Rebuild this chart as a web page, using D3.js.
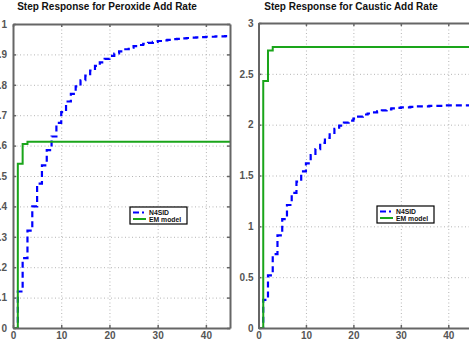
<!DOCTYPE html>
<html>
<head>
<meta charset="utf-8">
<script src="https://cdn.jsdelivr.net/npm/d3@7"></script>
<style>
body { margin: 0; background: #fff; }
svg { display: block; font-family: "Liberation Sans", Arial, sans-serif; }
</style>
</head>
<body>
<div id="chart"></div>
<script>
// data
var steps = d3.range(0, 46);
var peroxideN4sid = [0, 0.12, 0.23, 0.32, 0.40, 0.475, 0.535, 0.585, 0.63, 0.675, 0.71, 0.745, 0.77, 0.795, 0.815, 0.83,
    0.847, 0.862, 0.874, 0.885, 0.895, 0.903, 0.91, 0.917, 0.922, 0.927, 0.931, 0.935, 0.938, 0.941, 0.944, 0.946,
    0.948, 0.95, 0.951, 0.953, 0.954, 0.955, 0.956, 0.957, 0.958, 0.958, 0.959, 0.959, 0.96, 0.96];
var causticN4sid = [0, 0.276, 0.517, 0.727, 0.911, 1.07, 1.21, 1.33, 1.44, 1.54, 1.62, 1.70, 1.76, 1.82, 1.87, 1.92,
    1.96, 1.99, 2.02, 2.04, 2.06, 2.08, 2.10, 2.11, 2.12, 2.13, 2.14, 2.15, 2.16, 2.165, 2.17, 2.17,
    2.175, 2.18, 2.18, 2.18, 2.185, 2.185, 2.185, 2.19, 2.19, 2.19, 2.19, 2.19, 2.19, 2.19];
var emSteps = [0, 1, 2, 3, 45];
var peroxideEm = [0, 0.54, 0.605, 0.613, 0.615];
var causticEm = [0, 2.43, 2.73, 2.765, 2.775];
var xTicks = [0, 10, 20, 30, 40];
var peroxideTicks = [0, 0.1, 0.2, 0.3, 0.4, 0.5, 0.6, 0.7, 0.8, 0.9, 1];
var causticTicks = [0, 0.5, 1, 1.5, 2, 2.5, 3];
var legendLabels = ["N4SID", "EM model"];

var width = 469, height = 349;
var svg = d3.select("#chart").append("svg").attr("width", width).attr("height", height);

var blue = "#0000ff", green = "#1aa51a", axisGray = "#666";
var fmt = d3.format("~g");

var panels = [
    {title: "Step Response for Peroxide Add Rate", titleX: 107, left: 13, right: 230, top: 24, bottom: 328,
     yMax: 1, yTicks: peroxideTicks, n4sid: peroxideN4sid, em: peroxideEm, legend: [130, 207], labelGap: 4},
    {title: "Step Response for Caustic Add Rate", titleX: 351, left: 258.5, right: 472, top: 23, bottom: 328,
     yMax: 3, yTicks: causticTicks, n4sid: causticN4sid, em: causticEm, legend: [377, 206], labelGap: 3}
];

panels.forEach(function(p) {
    var x = d3.scaleLinear().domain([0, 45]).range([p.left, p.right]);
    var y = d3.scaleLinear().domain([0, p.yMax]).range([p.bottom, p.top]);
    var g = svg.append("g");

    // grid
    g.append("g").attr("transform", "translate(0," + p.bottom + ")")
        .call(d3.axisBottom(x).tickValues(xTicks).tickSize(-(p.bottom - p.top)).tickFormat(""))
        .call(function(s) { s.select(".domain").remove(); });
    g.append("g").attr("transform", "translate(" + p.left + ",0)")
        .call(d3.axisLeft(y).tickValues(p.yTicks).tickSize(-(p.right - p.left)).tickFormat(""))
        .call(function(s) { s.select(".domain").remove(); });
    g.selectAll(".tick line").attr("stroke", "#b5b5b5").attr("stroke-width", 1).attr("stroke-dasharray", "1,2.5");

    // lines
    var n4sidLine = d3.line().curve(d3.curveStepAfter)
        .x(function(d, i) { return x(steps[i]); })
        .y(function(d) { return y(d); });
    var emLine = d3.line().curve(d3.curveStepAfter)
        .x(function(d, i) { return x(emSteps[i]); })
        .y(function(d) { return y(d); });

    g.append("path").datum(p.n4sid).attr("d", n4sidLine)
        .attr("fill", "none").attr("stroke", blue).attr("stroke-width", 2.2).attr("stroke-dasharray", "6,4");
    g.append("path").datum(p.em).attr("d", emLine)
        .attr("fill", "none").attr("stroke", green).attr("stroke-width", 2);

    // axes box with inward ticks
    var axes = g.append("g").attr("class", "box");
    axes.append("g").attr("transform", "translate(0," + p.bottom + ")")
        .call(d3.axisBottom(x).tickValues(xTicks).tickFormat(fmt).tickSizeInner(-3).tickSizeOuter(0).tickPadding(4));
    axes.append("g").attr("transform", "translate(0," + p.top + ")")
        .call(d3.axisTop(x).tickValues(xTicks).tickSizeInner(-3).tickSizeOuter(0).tickFormat(""));
    axes.append("g").attr("transform", "translate(" + p.left + ",0)")
        .call(d3.axisLeft(y).tickValues(p.yTicks).tickFormat(fmt).tickSizeInner(-3).tickSizeOuter(0).tickPadding(p.labelGap + 2));
    axes.append("g").attr("transform", "translate(" + p.right + ",0)")
        .call(d3.axisRight(y).tickValues(p.yTicks).tickSizeInner(-3).tickSizeOuter(0).tickFormat(""));
    axes.selectAll(".domain").attr("stroke", axisGray).attr("stroke-width", 2);
    axes.selectAll(".tick line").attr("stroke", axisGray).attr("stroke-width", 1.5);
    axes.selectAll("text").attr("fill", "#555").attr("font-size", 10).attr("font-weight", "bold")
        .attr("font-family", "'Liberation Sans', Arial, sans-serif");

    // title
    svg.append("text").attr("x", p.titleX).attr("y", 9.5).attr("text-anchor", "middle")
        .attr("font-size", 10).attr("font-weight", "bold").attr("fill", "#111").text(p.title);

    // legend
    var lg = g.append("g").attr("transform", "translate(" + p.legend[0] + "," + p.legend[1] + ")");
    lg.append("rect").attr("width", 57).attr("height", 17).attr("fill", "#fff")
        .attr("stroke", "#000").attr("stroke-width", 1.2);
    lg.append("line").attr("x1", 3).attr("x2", 15).attr("y1", 5.5).attr("y2", 5.5)
        .attr("stroke", blue).attr("stroke-width", 2).attr("stroke-dasharray", "6,3,2,10");
    lg.append("line").attr("x1", 3).attr("x2", 16).attr("y1", 12).attr("y2", 12)
        .attr("stroke", green).attr("stroke-width", 2);
    lg.selectAll(".lbl").data(legendLabels).enter().append("text").attr("class", "lbl")
        .attr("x", 19).attr("y", function(d, i) { return 8 + i * 6.5; })
        .attr("font-size", 6.8).attr("font-weight", "bold").attr("fill", "#111").text(function(d) { return d; });
});
</script>
</body>
</html>
